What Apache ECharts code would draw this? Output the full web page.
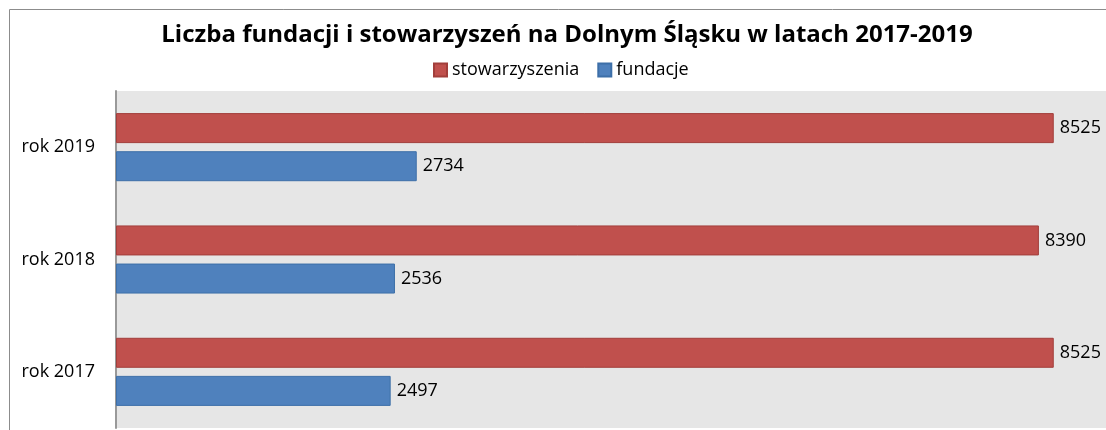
<!DOCTYPE html>
<html>
<head>
<meta charset="utf-8">
<script src="https://cdn.jsdelivr.net/npm/echarts@6/dist/echarts.min.js"></script>
<style>
  html, body { margin: 0; padding: 0; background: #fff; }
  #chart { width: 1106px; height: 430px; }
</style>
</head>
<body>
<div id="chart"></div>
<script>
// dane z wykresu
const years = ['rok 2017', 'rok 2018', 'rok 2019'];
const stowarzyszenia = [8525, 8390, 8525];
const fundacje = [2497, 2536, 2734];

const chart = echarts.init(document.getElementById('chart'));
const font = '"Open Sans", "Noto Sans", sans-serif';

chart.setOption({
  animation: false,
  textStyle: { fontFamily: font },
  title: {
    text: 'Liczba fundacji i stowarzyszeń na Dolnym Śląsku w latach 2017-2019',
    left: 562,
    textAlign: 'center',
    top: 18,
    textStyle: { fontSize: 24, fontWeight: 'bold', color: '#000', fontFamily: font }
  },
  legend: {
    data: ['stowarzyszenia', 'fundacje'],
    top: 56,
    left: 428,
    itemWidth: 13,
    itemHeight: 13,
    itemGap: 18,
    icon: 'rect',
    textStyle: { fontSize: 18, color: '#000', fontFamily: font }
  },
  graphic: [{
    type: 'rect',
    shape: { x: 9.5, y: 9.5, width: 1200, height: 500 },
    style: { fill: 'none', stroke: '#8c8c8c', lineWidth: 1 },
    silent: true
  }],
  grid: {
    left: 116, right: 0, top: 91, bottom: 2,
    show: true, backgroundColor: '#e6e6e6', borderWidth: 0
  },
  xAxis: {
    type: 'value',
    min: 0, max: 9000,
    show: false
  },
  yAxis: {
    type: 'category',
    data: years,
    axisLine: { show: true, lineStyle: { color: '#999', width: 2 } },
    axisTick: { show: false },
    axisLabel: { fontSize: 18, color: '#000', margin: 21, fontFamily: font }
  },
  series: [
    {
      name: 'stowarzyszenia',
      type: 'bar',
      data: stowarzyszenia,
      barWidth: 30,
      barGap: '27%',
      itemStyle: { color: '#c0504d', borderColor: '#a23e3b', borderWidth: 1 },
      label: { show: true, position: 'right', distance: 6, fontSize: 18, color: '#000', fontFamily: font }
    },
    {
      name: 'fundacje',
      type: 'bar',
      data: fundacje,
      barWidth: 30,
      barGap: '27%',
      itemStyle: { color: '#4f81bd', borderColor: '#3d6fa8', borderWidth: 1 },
      label: { show: true, position: 'right', distance: 6, fontSize: 18, color: '#000', fontFamily: font }
    }
  ]
});
</script>
</body>
</html>
